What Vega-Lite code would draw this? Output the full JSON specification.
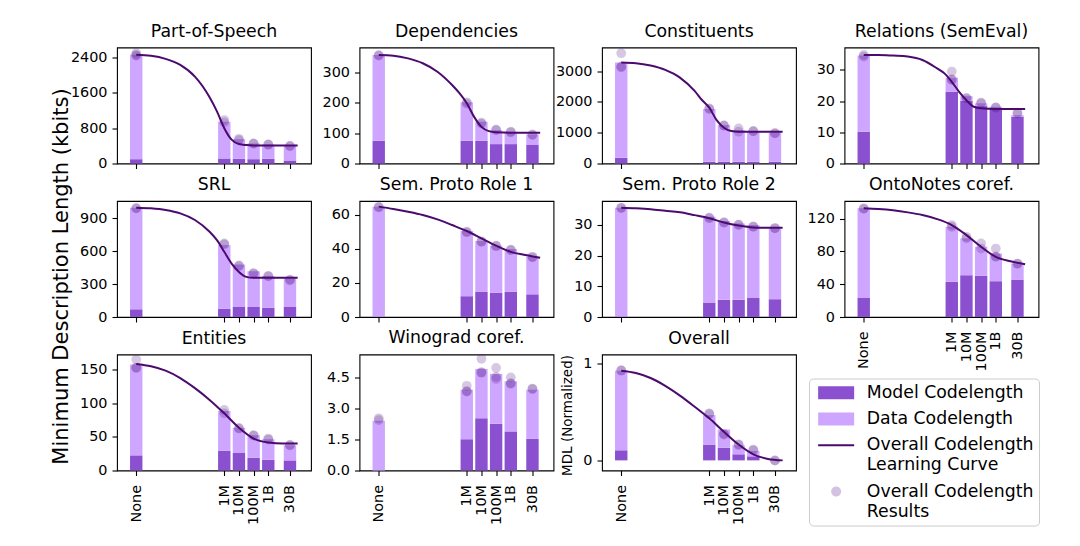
{
  "$schema": "https://vega.github.io/schema/vega-lite/v6.json",
  "background": "white",
  "padding": {"left": 49, "top": 21.5, "right": 5, "bottom": 5},
  "columns": 4,
  "spacing": {"row": 37.5, "column": 48.5},
  "bounds": "flush",
  "data": {"values": [
    {"task":"pos","kind":"bar","log_tokens":0,"part":"Model Codelength","kbits":98},
    {"task":"pos","kind":"bar","log_tokens":0,"part":"Data Codelength","kbits":2362},
    {"task":"pos","kind":"bar","log_tokens":6,"part":"Model Codelength","kbits":114},
    {"task":"pos","kind":"bar","log_tokens":6,"part":"Data Codelength","kbits":832},
    {"task":"pos","kind":"bar","log_tokens":7,"part":"Model Codelength","kbits":106},
    {"task":"pos","kind":"bar","log_tokens":7,"part":"Data Codelength","kbits":444},
    {"task":"pos","kind":"bar","log_tokens":8,"part":"Model Codelength","kbits":98},
    {"task":"pos","kind":"bar","log_tokens":8,"part":"Data Codelength","kbits":356},
    {"task":"pos","kind":"bar","log_tokens":9,"part":"Model Codelength","kbits":106},
    {"task":"pos","kind":"bar","log_tokens":9,"part":"Data Codelength","kbits":325},
    {"task":"pos","kind":"bar","log_tokens":10.477,"part":"Model Codelength","kbits":68},
    {"task":"pos","kind":"bar","log_tokens":10.477,"part":"Data Codelength","kbits":333},
    {"task":"pos","kind":"result","log_tokens":0,"kbits":2445},
    {"task":"pos","kind":"result","log_tokens":0,"kbits":2455},
    {"task":"pos","kind":"result","log_tokens":0,"kbits":2500},
    {"task":"pos","kind":"result","log_tokens":6,"kbits":984},
    {"task":"pos","kind":"result","log_tokens":6,"kbits":931},
    {"task":"pos","kind":"result","log_tokens":7,"kbits":530},
    {"task":"pos","kind":"result","log_tokens":7,"kbits":560},
    {"task":"pos","kind":"result","log_tokens":8,"kbits":454},
    {"task":"pos","kind":"result","log_tokens":8,"kbits":450},
    {"task":"pos","kind":"result","log_tokens":9,"kbits":431},
    {"task":"pos","kind":"result","log_tokens":9,"kbits":425},
    {"task":"pos","kind":"result","log_tokens":10.477,"kbits":394},
    {"task":"pos","kind":"result","log_tokens":10.477,"kbits":398},
    {"task":"pos","kind":"curve","log_tokens":0,"kbits":2460},
    {"task":"pos","kind":"curve","log_tokens":1,"kbits":2438},
    {"task":"pos","kind":"curve","log_tokens":2,"kbits":2370},
    {"task":"pos","kind":"curve","log_tokens":3,"kbits":2233},
    {"task":"pos","kind":"curve","log_tokens":4,"kbits":1968},
    {"task":"pos","kind":"curve","log_tokens":5,"kbits":1500},
    {"task":"pos","kind":"curve","log_tokens":5.5,"kbits":1180},
    {"task":"pos","kind":"curve","log_tokens":6,"kbits":800},
    {"task":"pos","kind":"curve","log_tokens":6.5,"kbits":540},
    {"task":"pos","kind":"curve","log_tokens":7,"kbits":440},
    {"task":"pos","kind":"curve","log_tokens":7.5,"kbits":418},
    {"task":"pos","kind":"curve","log_tokens":8,"kbits":410},
    {"task":"pos","kind":"curve","log_tokens":9,"kbits":409},
    {"task":"pos","kind":"curve","log_tokens":10,"kbits":409},
    {"task":"pos","kind":"curve","log_tokens":11,"kbits":409},

    {"task":"dep","kind":"bar","log_tokens":0,"part":"Model Codelength","kbits":75},
    {"task":"dep","kind":"bar","log_tokens":0,"part":"Data Codelength","kbits":283},
    {"task":"dep","kind":"bar","log_tokens":6,"part":"Model Codelength","kbits":75},
    {"task":"dep","kind":"bar","log_tokens":6,"part":"Data Codelength","kbits":127},
    {"task":"dep","kind":"bar","log_tokens":7,"part":"Model Codelength","kbits":75},
    {"task":"dep","kind":"bar","log_tokens":7,"part":"Data Codelength","kbits":63},
    {"task":"dep","kind":"bar","log_tokens":8,"part":"Model Codelength","kbits":64},
    {"task":"dep","kind":"bar","log_tokens":8,"part":"Data Codelength","kbits":46},
    {"task":"dep","kind":"bar","log_tokens":9,"part":"Model Codelength","kbits":64},
    {"task":"dep","kind":"bar","log_tokens":9,"part":"Data Codelength","kbits":41},
    {"task":"dep","kind":"bar","log_tokens":10.477,"part":"Model Codelength","kbits":61},
    {"task":"dep","kind":"bar","log_tokens":10.477,"part":"Data Codelength","kbits":35},
    {"task":"dep","kind":"result","log_tokens":0,"kbits":358},
    {"task":"dep","kind":"result","log_tokens":0,"kbits":356},
    {"task":"dep","kind":"result","log_tokens":6,"kbits":202},
    {"task":"dep","kind":"result","log_tokens":6,"kbits":198},
    {"task":"dep","kind":"result","log_tokens":7,"kbits":132},
    {"task":"dep","kind":"result","log_tokens":7,"kbits":135},
    {"task":"dep","kind":"result","log_tokens":8,"kbits":112},
    {"task":"dep","kind":"result","log_tokens":8,"kbits":110},
    {"task":"dep","kind":"result","log_tokens":9,"kbits":105},
    {"task":"dep","kind":"result","log_tokens":9,"kbits":103},
    {"task":"dep","kind":"result","log_tokens":10.477,"kbits":94},
    {"task":"dep","kind":"result","log_tokens":10.477,"kbits":96},
    {"task":"dep","kind":"curve","log_tokens":0,"kbits":358},
    {"task":"dep","kind":"curve","log_tokens":1,"kbits":356},
    {"task":"dep","kind":"curve","log_tokens":2,"kbits":347},
    {"task":"dep","kind":"curve","log_tokens":3,"kbits":331},
    {"task":"dep","kind":"curve","log_tokens":4,"kbits":303},
    {"task":"dep","kind":"curve","log_tokens":5,"kbits":259},
    {"task":"dep","kind":"curve","log_tokens":5.5,"kbits":232},
    {"task":"dep","kind":"curve","log_tokens":6,"kbits":199},
    {"task":"dep","kind":"curve","log_tokens":6.5,"kbits":154},
    {"task":"dep","kind":"curve","log_tokens":7,"kbits":121},
    {"task":"dep","kind":"curve","log_tokens":7.5,"kbits":107},
    {"task":"dep","kind":"curve","log_tokens":8,"kbits":103},
    {"task":"dep","kind":"curve","log_tokens":9,"kbits":101.5},
    {"task":"dep","kind":"curve","log_tokens":10,"kbits":101.5},
    {"task":"dep","kind":"curve","log_tokens":11,"kbits":101.5},

    {"task":"con","kind":"bar","log_tokens":0,"part":"Model Codelength","kbits":185},
    {"task":"con","kind":"bar","log_tokens":0,"part":"Data Codelength","kbits":3098},
    {"task":"con","kind":"bar","log_tokens":6,"part":"Model Codelength","kbits":55},
    {"task":"con","kind":"bar","log_tokens":6,"part":"Data Codelength","kbits":1717},
    {"task":"con","kind":"bar","log_tokens":7,"part":"Model Codelength","kbits":55},
    {"task":"con","kind":"bar","log_tokens":7,"part":"Data Codelength","kbits":1195},
    {"task":"con","kind":"bar","log_tokens":8,"part":"Model Codelength","kbits":55},
    {"task":"con","kind":"bar","log_tokens":8,"part":"Data Codelength","kbits":1032},
    {"task":"con","kind":"bar","log_tokens":9,"part":"Model Codelength","kbits":55},
    {"task":"con","kind":"bar","log_tokens":9,"part":"Data Codelength","kbits":999},
    {"task":"con","kind":"bar","log_tokens":10.477,"part":"Model Codelength","kbits":55},
    {"task":"con","kind":"bar","log_tokens":10.477,"part":"Data Codelength","kbits":945},
    {"task":"con","kind":"result","log_tokens":0,"kbits":3130},
    {"task":"con","kind":"result","log_tokens":0,"kbits":3150},
    {"task":"con","kind":"result","log_tokens":0,"kbits":3587},
    {"task":"con","kind":"result","log_tokens":6,"kbits":1793},
    {"task":"con","kind":"result","log_tokens":6,"kbits":1770},
    {"task":"con","kind":"result","log_tokens":7,"kbits":1228},
    {"task":"con","kind":"result","log_tokens":7,"kbits":1240},
    {"task":"con","kind":"result","log_tokens":8,"kbits":1141},
    {"task":"con","kind":"result","log_tokens":8,"kbits":1033},
    {"task":"con","kind":"result","log_tokens":9,"kbits":1054},
    {"task":"con","kind":"result","log_tokens":9,"kbits":1050},
    {"task":"con","kind":"result","log_tokens":10.477,"kbits":978},
    {"task":"con","kind":"result","log_tokens":10.477,"kbits":990},
    {"task":"con","kind":"curve","log_tokens":0,"kbits":3283},
    {"task":"con","kind":"curve","log_tokens":1,"kbits":3261},
    {"task":"con","kind":"curve","log_tokens":2,"kbits":3185},
    {"task":"con","kind":"curve","log_tokens":3,"kbits":3044},
    {"task":"con","kind":"curve","log_tokens":4,"kbits":2794},
    {"task":"con","kind":"curve","log_tokens":5,"kbits":2359},
    {"task":"con","kind":"curve","log_tokens":5.5,"kbits":2065},
    {"task":"con","kind":"curve","log_tokens":6,"kbits":1815},
    {"task":"con","kind":"curve","log_tokens":6.5,"kbits":1413},
    {"task":"con","kind":"curve","log_tokens":7,"kbits":1163},
    {"task":"con","kind":"curve","log_tokens":7.5,"kbits":1054},
    {"task":"con","kind":"curve","log_tokens":8,"kbits":1033},
    {"task":"con","kind":"curve","log_tokens":9,"kbits":1033},
    {"task":"con","kind":"curve","log_tokens":10,"kbits":1033},
    {"task":"con","kind":"curve","log_tokens":11,"kbits":1033},

    {"task":"rel","kind":"bar","log_tokens":0,"part":"Model Codelength","kbits":10.2},
    {"task":"rel","kind":"bar","log_tokens":0,"part":"Data Codelength","kbits":24.4},
    {"task":"rel","kind":"bar","log_tokens":6,"part":"Model Codelength","kbits":23.0},
    {"task":"rel","kind":"bar","log_tokens":6,"part":"Data Codelength","kbits":4.5},
    {"task":"rel","kind":"bar","log_tokens":7,"part":"Model Codelength","kbits":20.1},
    {"task":"rel","kind":"bar","log_tokens":7,"part":"Data Codelength","kbits":1.5},
    {"task":"rel","kind":"bar","log_tokens":8,"part":"Model Codelength","kbits":18.4},
    {"task":"rel","kind":"bar","log_tokens":8,"part":"Data Codelength","kbits":0.9},
    {"task":"rel","kind":"bar","log_tokens":9,"part":"Model Codelength","kbits":17.7},
    {"task":"rel","kind":"bar","log_tokens":9,"part":"Data Codelength","kbits":0.5},
    {"task":"rel","kind":"bar","log_tokens":10.477,"part":"Model Codelength","kbits":15.0},
    {"task":"rel","kind":"bar","log_tokens":10.477,"part":"Data Codelength","kbits":0.5},
    {"task":"rel","kind":"result","log_tokens":0,"kbits":34.8},
    {"task":"rel","kind":"result","log_tokens":0,"kbits":34.3},
    {"task":"rel","kind":"result","log_tokens":6,"kbits":29.5},
    {"task":"rel","kind":"result","log_tokens":6,"kbits":26.8},
    {"task":"rel","kind":"result","log_tokens":6,"kbits":27.0},
    {"task":"rel","kind":"result","log_tokens":7,"kbits":20.9},
    {"task":"rel","kind":"result","log_tokens":7,"kbits":21.0},
    {"task":"rel","kind":"result","log_tokens":8,"kbits":19.5},
    {"task":"rel","kind":"result","log_tokens":8,"kbits":19.3},
    {"task":"rel","kind":"result","log_tokens":9,"kbits":17.9},
    {"task":"rel","kind":"result","log_tokens":9,"kbits":18.0},
    {"task":"rel","kind":"result","log_tokens":10.477,"kbits":16.3},
    {"task":"rel","kind":"result","log_tokens":10.477,"kbits":16.0},
    {"task":"rel","kind":"curve","log_tokens":0,"kbits":34.8},
    {"task":"rel","kind":"curve","log_tokens":1,"kbits":34.8},
    {"task":"rel","kind":"curve","log_tokens":2,"kbits":34.6},
    {"task":"rel","kind":"curve","log_tokens":3,"kbits":34.3},
    {"task":"rel","kind":"curve","log_tokens":4,"kbits":33.2},
    {"task":"rel","kind":"curve","log_tokens":5,"kbits":30.5},
    {"task":"rel","kind":"curve","log_tokens":5.5,"kbits":28.9},
    {"task":"rel","kind":"curve","log_tokens":6,"kbits":26.2},
    {"task":"rel","kind":"curve","log_tokens":6.5,"kbits":23.0},
    {"task":"rel","kind":"curve","log_tokens":7,"kbits":20.3},
    {"task":"rel","kind":"curve","log_tokens":7.5,"kbits":18.2},
    {"task":"rel","kind":"curve","log_tokens":8,"kbits":17.7},
    {"task":"rel","kind":"curve","log_tokens":9,"kbits":17.5},
    {"task":"rel","kind":"curve","log_tokens":10,"kbits":17.5},
    {"task":"rel","kind":"curve","log_tokens":11,"kbits":17.5},

    {"task":"srl","kind":"bar","log_tokens":0,"part":"Model Codelength","kbits":70},
    {"task":"srl","kind":"bar","log_tokens":0,"part":"Data Codelength","kbits":924},
    {"task":"srl","kind":"bar","log_tokens":6,"part":"Model Codelength","kbits":76},
    {"task":"srl","kind":"bar","log_tokens":6,"part":"Data Codelength","kbits":578},
    {"task":"srl","kind":"bar","log_tokens":7,"part":"Model Codelength","kbits":91},
    {"task":"srl","kind":"bar","log_tokens":7,"part":"Data Codelength","kbits":386},
    {"task":"srl","kind":"bar","log_tokens":8,"part":"Model Codelength","kbits":91},
    {"task":"srl","kind":"bar","log_tokens":8,"part":"Data Codelength","kbits":325},
    {"task":"srl","kind":"bar","log_tokens":9,"part":"Model Codelength","kbits":85},
    {"task":"srl","kind":"bar","log_tokens":9,"part":"Data Codelength","kbits":289},
    {"task":"srl","kind":"bar","log_tokens":10.477,"part":"Model Codelength","kbits":91},
    {"task":"srl","kind":"bar","log_tokens":10.477,"part":"Data Codelength","kbits":259},
    {"task":"srl","kind":"result","log_tokens":0,"kbits":988},
    {"task":"srl","kind":"result","log_tokens":0,"kbits":990},
    {"task":"srl","kind":"result","log_tokens":6,"kbits":669},
    {"task":"srl","kind":"result","log_tokens":6,"kbits":660},
    {"task":"srl","kind":"result","log_tokens":7,"kbits":462},
    {"task":"srl","kind":"result","log_tokens":7,"kbits":470},
    {"task":"srl","kind":"result","log_tokens":8,"kbits":395},
    {"task":"srl","kind":"result","log_tokens":8,"kbits":400},
    {"task":"srl","kind":"result","log_tokens":9,"kbits":374},
    {"task":"srl","kind":"result","log_tokens":9,"kbits":370},
    {"task":"srl","kind":"result","log_tokens":10.477,"kbits":334},
    {"task":"srl","kind":"result","log_tokens":10.477,"kbits":340},
    {"task":"srl","kind":"curve","log_tokens":0,"kbits":994},
    {"task":"srl","kind":"curve","log_tokens":1,"kbits":988},
    {"task":"srl","kind":"curve","log_tokens":2,"kbits":973},
    {"task":"srl","kind":"curve","log_tokens":3,"kbits":942},
    {"task":"srl","kind":"curve","log_tokens":4,"kbits":882},
    {"task":"srl","kind":"curve","log_tokens":5,"kbits":775},
    {"task":"srl","kind":"curve","log_tokens":5.5,"kbits":699},
    {"task":"srl","kind":"curve","log_tokens":6,"kbits":593},
    {"task":"srl","kind":"curve","log_tokens":6.5,"kbits":486},
    {"task":"srl","kind":"curve","log_tokens":7,"kbits":410},
    {"task":"srl","kind":"curve","log_tokens":7.5,"kbits":365},
    {"task":"srl","kind":"curve","log_tokens":8,"kbits":356},
    {"task":"srl","kind":"curve","log_tokens":9,"kbits":356},
    {"task":"srl","kind":"curve","log_tokens":10,"kbits":356},
    {"task":"srl","kind":"curve","log_tokens":11,"kbits":356},

    {"task":"spr1","kind":"bar","log_tokens":0,"part":"Model Codelength","kbits":0.3},
    {"task":"spr1","kind":"bar","log_tokens":0,"part":"Data Codelength","kbits":64.4},
    {"task":"spr1","kind":"bar","log_tokens":6,"part":"Model Codelength","kbits":12.2},
    {"task":"spr1","kind":"bar","log_tokens":6,"part":"Data Codelength","kbits":38.2},
    {"task":"spr1","kind":"bar","log_tokens":7,"part":"Model Codelength","kbits":14.7},
    {"task":"spr1","kind":"bar","log_tokens":7,"part":"Data Codelength","kbits":29.8},
    {"task":"spr1","kind":"bar","log_tokens":8,"part":"Model Codelength","kbits":14.3},
    {"task":"spr1","kind":"bar","log_tokens":8,"part":"Data Codelength","kbits":27.5},
    {"task":"spr1","kind":"bar","log_tokens":9,"part":"Model Codelength","kbits":14.7},
    {"task":"spr1","kind":"bar","log_tokens":9,"part":"Data Codelength","kbits":25.1},
    {"task":"spr1","kind":"bar","log_tokens":10.477,"part":"Model Codelength","kbits":13.3},
    {"task":"spr1","kind":"bar","log_tokens":10.477,"part":"Data Codelength","kbits":22.0},
    {"task":"spr1","kind":"result","log_tokens":0,"kbits":64.3},
    {"task":"spr1","kind":"result","log_tokens":0,"kbits":64.5},
    {"task":"spr1","kind":"result","log_tokens":6,"kbits":49.6},
    {"task":"spr1","kind":"result","log_tokens":6,"kbits":50.0},
    {"task":"spr1","kind":"result","log_tokens":7,"kbits":44.1},
    {"task":"spr1","kind":"result","log_tokens":7,"kbits":44.3},
    {"task":"spr1","kind":"result","log_tokens":8,"kbits":41.8},
    {"task":"spr1","kind":"result","log_tokens":8,"kbits":41.5},
    {"task":"spr1","kind":"result","log_tokens":9,"kbits":39.2},
    {"task":"spr1","kind":"result","log_tokens":9,"kbits":39.5},
    {"task":"spr1","kind":"result","log_tokens":10.477,"kbits":35.3},
    {"task":"spr1","kind":"result","log_tokens":10.477,"kbits":35.0},
    {"task":"spr1","kind":"curve","log_tokens":0,"kbits":64.7},
    {"task":"spr1","kind":"curve","log_tokens":1,"kbits":63.3},
    {"task":"spr1","kind":"curve","log_tokens":2,"kbits":61.7},
    {"task":"spr1","kind":"curve","log_tokens":3,"kbits":59.8},
    {"task":"spr1","kind":"curve","log_tokens":4,"kbits":57.2},
    {"task":"spr1","kind":"curve","log_tokens":5,"kbits":53.9},
    {"task":"spr1","kind":"curve","log_tokens":6,"kbits":50.4},
    {"task":"spr1","kind":"curve","log_tokens":7,"kbits":46.1},
    {"task":"spr1","kind":"curve","log_tokens":8,"kbits":41.8},
    {"task":"spr1","kind":"curve","log_tokens":9,"kbits":38.2},
    {"task":"spr1","kind":"curve","log_tokens":10,"kbits":36.3},
    {"task":"spr1","kind":"curve","log_tokens":11,"kbits":34.7},

    {"task":"spr2","kind":"bar","log_tokens":0,"part":"Model Codelength","kbits":0.2},
    {"task":"spr2","kind":"bar","log_tokens":0,"part":"Data Codelength","kbits":35.4},
    {"task":"spr2","kind":"bar","log_tokens":6,"part":"Model Codelength","kbits":4.6},
    {"task":"spr2","kind":"bar","log_tokens":6,"part":"Data Codelength","kbits":28.1},
    {"task":"spr2","kind":"bar","log_tokens":7,"part":"Model Codelength","kbits":5.6},
    {"task":"spr2","kind":"bar","log_tokens":7,"part":"Data Codelength","kbits":25.7},
    {"task":"spr2","kind":"bar","log_tokens":8,"part":"Model Codelength","kbits":5.6},
    {"task":"spr2","kind":"bar","log_tokens":8,"part":"Data Codelength","kbits":24.9},
    {"task":"spr2","kind":"bar","log_tokens":9,"part":"Model Codelength","kbits":6.2},
    {"task":"spr2","kind":"bar","log_tokens":9,"part":"Data Codelength","kbits":23.8},
    {"task":"spr2","kind":"bar","log_tokens":10.477,"part":"Model Codelength","kbits":5.8},
    {"task":"spr2","kind":"bar","log_tokens":10.477,"part":"Data Codelength","kbits":23.1},
    {"task":"spr2","kind":"result","log_tokens":0,"kbits":35.6},
    {"task":"spr2","kind":"result","log_tokens":0,"kbits":35.5},
    {"task":"spr2","kind":"result","log_tokens":6,"kbits":32.2},
    {"task":"spr2","kind":"result","log_tokens":6,"kbits":32.4},
    {"task":"spr2","kind":"result","log_tokens":7,"kbits":30.7},
    {"task":"spr2","kind":"result","log_tokens":7,"kbits":30.9},
    {"task":"spr2","kind":"result","log_tokens":8,"kbits":30.0},
    {"task":"spr2","kind":"result","log_tokens":8,"kbits":30.1},
    {"task":"spr2","kind":"result","log_tokens":9,"kbits":29.4},
    {"task":"spr2","kind":"result","log_tokens":9,"kbits":29.5},
    {"task":"spr2","kind":"result","log_tokens":10.477,"kbits":28.9},
    {"task":"spr2","kind":"result","log_tokens":10.477,"kbits":29.0},
    {"task":"spr2","kind":"curve","log_tokens":0,"kbits":35.6},
    {"task":"spr2","kind":"curve","log_tokens":1,"kbits":35.4},
    {"task":"spr2","kind":"curve","log_tokens":2,"kbits":35.1},
    {"task":"spr2","kind":"curve","log_tokens":3,"kbits":34.6},
    {"task":"spr2","kind":"curve","log_tokens":4,"kbits":34.1},
    {"task":"spr2","kind":"curve","log_tokens":5,"kbits":33.2},
    {"task":"spr2","kind":"curve","log_tokens":6,"kbits":32.2},
    {"task":"spr2","kind":"curve","log_tokens":7,"kbits":30.8},
    {"task":"spr2","kind":"curve","log_tokens":8,"kbits":29.8},
    {"task":"spr2","kind":"curve","log_tokens":9,"kbits":29.2},
    {"task":"spr2","kind":"curve","log_tokens":10,"kbits":29.1},
    {"task":"spr2","kind":"curve","log_tokens":11,"kbits":29.1},

    {"task":"onto","kind":"bar","log_tokens":0,"part":"Model Codelength","kbits":23.3},
    {"task":"onto","kind":"bar","log_tokens":0,"part":"Data Codelength","kbits":109.4},
    {"task":"onto","kind":"bar","log_tokens":6,"part":"Model Codelength","kbits":42.9},
    {"task":"onto","kind":"bar","log_tokens":6,"part":"Data Codelength","kbits":67.3},
    {"task":"onto","kind":"bar","log_tokens":7,"part":"Model Codelength","kbits":51.0},
    {"task":"onto","kind":"bar","log_tokens":7,"part":"Data Codelength","kbits":44.9},
    {"task":"onto","kind":"bar","log_tokens":8,"part":"Model Codelength","kbits":50.2},
    {"task":"onto","kind":"bar","log_tokens":8,"part":"Data Codelength","kbits":35.5},
    {"task":"onto","kind":"bar","log_tokens":9,"part":"Model Codelength","kbits":43.7},
    {"task":"onto","kind":"bar","log_tokens":9,"part":"Data Codelength","kbits":33.8},
    {"task":"onto","kind":"bar","log_tokens":10.477,"part":"Model Codelength","kbits":45.7},
    {"task":"onto","kind":"bar","log_tokens":10.477,"part":"Data Codelength","kbits":19.6},
    {"task":"onto","kind":"result","log_tokens":0,"kbits":132.7},
    {"task":"onto","kind":"result","log_tokens":0,"kbits":132.0},
    {"task":"onto","kind":"result","log_tokens":6,"kbits":112.2},
    {"task":"onto","kind":"result","log_tokens":6,"kbits":110.0},
    {"task":"onto","kind":"result","log_tokens":7,"kbits":97.9},
    {"task":"onto","kind":"result","log_tokens":7,"kbits":96.0},
    {"task":"onto","kind":"result","log_tokens":8,"kbits":83.6},
    {"task":"onto","kind":"result","log_tokens":8,"kbits":89.8},
    {"task":"onto","kind":"result","log_tokens":9,"kbits":83.6},
    {"task":"onto","kind":"result","log_tokens":9,"kbits":73.4},
    {"task":"onto","kind":"result","log_tokens":9,"kbits":74.0},
    {"task":"onto","kind":"result","log_tokens":10.477,"kbits":65.3},
    {"task":"onto","kind":"result","log_tokens":10.477,"kbits":65.0},
    {"task":"onto","kind":"curve","log_tokens":0,"kbits":132.7},
    {"task":"onto","kind":"curve","log_tokens":1,"kbits":131.8},
    {"task":"onto","kind":"curve","log_tokens":2,"kbits":130.2},
    {"task":"onto","kind":"curve","log_tokens":3,"kbits":127.7},
    {"task":"onto","kind":"curve","log_tokens":4,"kbits":124.4},
    {"task":"onto","kind":"curve","log_tokens":5,"kbits":119.5},
    {"task":"onto","kind":"curve","log_tokens":6,"kbits":112.2},
    {"task":"onto","kind":"curve","log_tokens":7,"kbits":100.0},
    {"task":"onto","kind":"curve","log_tokens":8,"kbits":85.7},
    {"task":"onto","kind":"curve","log_tokens":9,"kbits":73.4},
    {"task":"onto","kind":"curve","log_tokens":10,"kbits":68.0},
    {"task":"onto","kind":"curve","log_tokens":11,"kbits":64.3},

    {"task":"ent","kind":"bar","log_tokens":0,"part":"Model Codelength","kbits":22.5},
    {"task":"ent","kind":"bar","log_tokens":0,"part":"Data Codelength","kbits":135},
    {"task":"ent","kind":"bar","log_tokens":6,"part":"Model Codelength","kbits":29.5},
    {"task":"ent","kind":"bar","log_tokens":6,"part":"Data Codelength","kbits":59},
    {"task":"ent","kind":"bar","log_tokens":7,"part":"Model Codelength","kbits":26},
    {"task":"ent","kind":"bar","log_tokens":7,"part":"Data Codelength","kbits":37.5},
    {"task":"ent","kind":"bar","log_tokens":8,"part":"Model Codelength","kbits":19},
    {"task":"ent","kind":"bar","log_tokens":8,"part":"Data Codelength","kbits":33.5},
    {"task":"ent","kind":"bar","log_tokens":9,"part":"Model Codelength","kbits":16},
    {"task":"ent","kind":"bar","log_tokens":9,"part":"Data Codelength","kbits":30.5},
    {"task":"ent","kind":"bar","log_tokens":10.477,"part":"Model Codelength","kbits":15},
    {"task":"ent","kind":"bar","log_tokens":10.477,"part":"Data Codelength","kbits":22.5},
    {"task":"ent","kind":"result","log_tokens":0,"kbits":152.5},
    {"task":"ent","kind":"result","log_tokens":0,"kbits":153},
    {"task":"ent","kind":"result","log_tokens":0,"kbits":165},
    {"task":"ent","kind":"result","log_tokens":6,"kbits":90},
    {"task":"ent","kind":"result","log_tokens":6,"kbits":85},
    {"task":"ent","kind":"result","log_tokens":7,"kbits":62.5},
    {"task":"ent","kind":"result","log_tokens":7,"kbits":63},
    {"task":"ent","kind":"result","log_tokens":8,"kbits":52.5},
    {"task":"ent","kind":"result","log_tokens":8,"kbits":52},
    {"task":"ent","kind":"result","log_tokens":9,"kbits":47.5},
    {"task":"ent","kind":"result","log_tokens":9,"kbits":46},
    {"task":"ent","kind":"result","log_tokens":10.477,"kbits":37.5},
    {"task":"ent","kind":"result","log_tokens":10.477,"kbits":38},
    {"task":"ent","kind":"curve","log_tokens":0,"kbits":158.5},
    {"task":"ent","kind":"curve","log_tokens":1,"kbits":155},
    {"task":"ent","kind":"curve","log_tokens":2,"kbits":148.5},
    {"task":"ent","kind":"curve","log_tokens":3,"kbits":137.5},
    {"task":"ent","kind":"curve","log_tokens":4,"kbits":122.5},
    {"task":"ent","kind":"curve","log_tokens":5,"kbits":105},
    {"task":"ent","kind":"curve","log_tokens":6,"kbits":85},
    {"task":"ent","kind":"curve","log_tokens":7,"kbits":63.5},
    {"task":"ent","kind":"curve","log_tokens":8,"kbits":47.5},
    {"task":"ent","kind":"curve","log_tokens":9,"kbits":41.5},
    {"task":"ent","kind":"curve","log_tokens":10,"kbits":40},
    {"task":"ent","kind":"curve","log_tokens":11,"kbits":40},

    {"task":"wino","kind":"bar","log_tokens":0,"part":"Model Codelength","kbits":0},
    {"task":"wino","kind":"bar","log_tokens":0,"part":"Data Codelength","kbits":2.42},
    {"task":"wino","kind":"bar","log_tokens":6,"part":"Model Codelength","kbits":1.52},
    {"task":"wino","kind":"bar","log_tokens":6,"part":"Data Codelength","kbits":2.41},
    {"task":"wino","kind":"bar","log_tokens":7,"part":"Model Codelength","kbits":2.54},
    {"task":"wino","kind":"bar","log_tokens":7,"part":"Data Codelength","kbits":2.40},
    {"task":"wino","kind":"bar","log_tokens":8,"part":"Model Codelength","kbits":2.27},
    {"task":"wino","kind":"bar","log_tokens":8,"part":"Data Codelength","kbits":2.43},
    {"task":"wino","kind":"bar","log_tokens":9,"part":"Model Codelength","kbits":1.90},
    {"task":"wino","kind":"bar","log_tokens":9,"part":"Data Codelength","kbits":2.44},
    {"task":"wino","kind":"bar","log_tokens":10.477,"part":"Model Codelength","kbits":1.55},
    {"task":"wino","kind":"bar","log_tokens":10.477,"part":"Data Codelength","kbits":2.38},
    {"task":"wino","kind":"result","log_tokens":0,"kbits":2.45},
    {"task":"wino","kind":"result","log_tokens":0,"kbits":2.54},
    {"task":"wino","kind":"result","log_tokens":6,"kbits":3.84},
    {"task":"wino","kind":"result","log_tokens":6,"kbits":3.86},
    {"task":"wino","kind":"result","log_tokens":6,"kbits":4.12},
    {"task":"wino","kind":"result","log_tokens":7,"kbits":4.78},
    {"task":"wino","kind":"result","log_tokens":7,"kbits":4.75},
    {"task":"wino","kind":"result","log_tokens":7,"kbits":5.43},
    {"task":"wino","kind":"result","log_tokens":8,"kbits":4.45},
    {"task":"wino","kind":"result","log_tokens":8,"kbits":4.55},
    {"task":"wino","kind":"result","log_tokens":8,"kbits":4.99},
    {"task":"wino","kind":"result","log_tokens":9,"kbits":4.22},
    {"task":"wino","kind":"result","log_tokens":9,"kbits":4.25},
    {"task":"wino","kind":"result","log_tokens":9,"kbits":4.53},
    {"task":"wino","kind":"result","log_tokens":10.477,"kbits":3.96},
    {"task":"wino","kind":"result","log_tokens":10.477,"kbits":3.98},

    {"task":"all","kind":"bar","log_tokens":0,"part":"Model Codelength","kbits":0.1045},
    {"task":"all","kind":"bar","log_tokens":0,"part":"Data Codelength","kbits":0.8255},
    {"task":"all","kind":"bar","log_tokens":6,"part":"Model Codelength","kbits":0.164},
    {"task":"all","kind":"bar","log_tokens":6,"part":"Data Codelength","kbits":0.306},
    {"task":"all","kind":"bar","log_tokens":7,"part":"Model Codelength","kbits":0.13},
    {"task":"all","kind":"bar","log_tokens":7,"part":"Data Codelength","kbits":0.19},
    {"task":"all","kind":"bar","log_tokens":8,"part":"Model Codelength","kbits":0.063},
    {"task":"all","kind":"bar","log_tokens":8,"part":"Data Codelength","kbits":0.094},
    {"task":"all","kind":"bar","log_tokens":9,"part":"Model Codelength","kbits":0.042},
    {"task":"all","kind":"bar","log_tokens":9,"part":"Data Codelength","kbits":0.056},
    {"task":"all","kind":"result","log_tokens":0,"kbits":0.930},
    {"task":"all","kind":"result","log_tokens":0,"kbits":0.935},
    {"task":"all","kind":"result","log_tokens":6,"kbits":0.488},
    {"task":"all","kind":"result","log_tokens":6,"kbits":0.480},
    {"task":"all","kind":"result","log_tokens":7,"kbits":0.268},
    {"task":"all","kind":"result","log_tokens":7,"kbits":0.275},
    {"task":"all","kind":"result","log_tokens":8,"kbits":0.167},
    {"task":"all","kind":"result","log_tokens":8,"kbits":0.160},
    {"task":"all","kind":"result","log_tokens":9,"kbits":0.111},
    {"task":"all","kind":"result","log_tokens":9,"kbits":0.105},
    {"task":"all","kind":"result","log_tokens":10.477,"kbits":-0.003},
    {"task":"all","kind":"result","log_tokens":10.477,"kbits":0.0},
    {"task":"all","kind":"curve","log_tokens":0,"kbits":0.930},
    {"task":"all","kind":"curve","log_tokens":1,"kbits":0.906},
    {"task":"all","kind":"curve","log_tokens":2,"kbits":0.854},
    {"task":"all","kind":"curve","log_tokens":3,"kbits":0.773},
    {"task":"all","kind":"curve","log_tokens":4,"kbits":0.672},
    {"task":"all","kind":"curve","log_tokens":5,"kbits":0.557},
    {"task":"all","kind":"curve","log_tokens":6,"kbits":0.436},
    {"task":"all","kind":"curve","log_tokens":7,"kbits":0.296},
    {"task":"all","kind":"curve","log_tokens":8,"kbits":0.164},
    {"task":"all","kind":"curve","log_tokens":9,"kbits":0.063},
    {"task":"all","kind":"curve","log_tokens":10,"kbits":0.015},
    {"task":"all","kind":"curve","log_tokens":11,"kbits":0.0}
  ]},
  "concat": [
    {
      "title": "Part-of-Speech", "width": 194, "height": 116,
      "transform": [{"filter": "datum.task == 'pos'"}],
      "encoding": {
        "x": {"field": "log_tokens", "type": "quantitative", "scale": {"domain": [-0.97, 11.57], "nice": false, "zero": false}, "axis": {"values": [0, 6, 7, 8, 9, 10.477], "labels": false, "title": null}},
        "y": {"field": "kbits", "type": "quantitative", "scale": {"domain": [0, 2627], "nice": false}, "axis": {"values": [0, 800, 1600, 2400], "format": "d", "title": "Minimum Description Length (kbits)", "titleFontSize": 21, "titleX": -56, "titleY": 228.5, "titleAngle": 270, "titleAlign": "center", "titleBaseline": "middle"}}
      },
      "layer": [
        {"transform": [{"filter": "datum.kind == 'bar'"}], "mark": {"type": "bar", "width": 12.4},
         "encoding": {
           "y": {"field": "kbits", "type": "quantitative", "stack": "zero", "scale": {"domain": [0, 2627], "nice": false}, "axis": {"values": [0, 800, 1600, 2400], "format": "d", "title": "Minimum Description Length (kbits)", "titleFontSize": 21, "titleX": -56, "titleY": 228.5, "titleAngle": 270, "titleAlign": "center", "titleBaseline": "middle"}},
           "color": {"field": "part", "type": "nominal",
             "scale": {"domain": ["Model Codelength", "Data Codelength", "Overall Codelength|Learning Curve", "Overall Codelength|Results"], "range": ["#8a50d0", "#cfa6ff", "#4b0a6e", "#5b2390"]},
             "legend": {
               "orient": "none", "legendX": 692, "legendY": 331, "title": null,
               "labelFontSize": 17.3, "labelLimit": 400, "labelColor": "#000", "labelFont": "DejaVu Sans",
               "symbolSize": 169, "symbolOffset": 13, "labelOffset": 22, "rowPadding": 8.3,
               "padding": 5.5, "strokeColor": "#cccccc", "fillColor": "#ffffff", "cornerRadius": 4,
               "labelExpr": "split(datum.label, '|')",
               "encode": {
                 "symbols": {"update": {
                   "shape": {"signal": "datum.value == 'Overall Codelength|Learning Curve' ? 'M-2.77,0H2.77' : datum.value == 'Overall Codelength|Results' ? 'M0.77,0A0.77,0.77,0,1,1,-0.77,0A0.77,0.77,0,1,1,0.77,0Z' : 'M-2.77,-1H2.77V1H-2.77Z'"},
                   "fill": {"signal": "datum.value == 'Model Codelength' ? '#8a50d0' : datum.value == 'Data Codelength' ? '#cfa6ff' : datum.value == 'Overall Codelength|Results' ? '#5b2390' : 'transparent'"},
                   "fillOpacity": {"signal": "datum.value == 'Overall Codelength|Results' ? 0.27 : 1"},
                   "stroke": {"signal": "datum.value == 'Overall Codelength|Learning Curve' ? '#4b0a6e' : 'transparent'"},
                   "strokeOpacity": {"signal": "datum.value == 'Overall Codelength|Learning Curve' ? 1 : 0"},
                   "strokeWidth": {"value": 2},
                   "opacity": {"value": 1}
                 }},
                 "labels": {"update": {"lineHeight": {"value": 20}}}
               }
             }},
           "order": {"field": "part", "sort": "descending"}
         }},
        {"transform": [{"filter": "datum.kind == 'result'"}], "mark": {"type": "point", "filled": true, "size": 95, "opacity": 0.25},
         "encoding": {"color": {"datum": "Overall Codelength|Results"}}},
        {"transform": [{"filter": "datum.kind == 'curve'"}], "mark": {"type": "line", "interpolate": "monotone", "strokeWidth": 2},
         "encoding": {"color": {"datum": "Overall Codelength|Learning Curve"}}}
      ]
    },
    {
      "title": "Dependencies", "width": 194, "height": 116,
      "transform": [{"filter": "datum.task == 'dep'"}],
      "encoding": {
        "x": {"field": "log_tokens", "type": "quantitative", "scale": {"domain": [-0.97, 11.57], "nice": false, "zero": false}, "axis": {"values": [0, 6, 7, 8, 9, 10.477], "labels": false, "title": null}},
        "y": {"field": "kbits", "type": "quantitative", "scale": {"domain": [0, 383], "nice": false}, "axis": {"values": [0, 100, 200, 300], "format": "d", "title": null}}
      },
      "layer": [
        {"transform": [{"filter": "datum.kind == 'bar'"}], "mark": {"type": "bar", "width": 12.4},
         "encoding": {
           "y": {"field": "kbits", "type": "quantitative", "stack": "zero", "scale": {"domain": [0, 383], "nice": false}, "axis": {"values": [0, 100, 200, 300], "format": "d", "title": null}},
           "color": {"field": "part", "type": "nominal"},
           "order": {"field": "part", "sort": "descending"}}},
        {"transform": [{"filter": "datum.kind == 'result'"}], "mark": {"type": "point", "filled": true, "size": 95, "opacity": 0.25},
         "encoding": {"color": {"datum": "Overall Codelength|Results"}}},
        {"transform": [{"filter": "datum.kind == 'curve'"}], "mark": {"type": "line", "interpolate": "monotone", "strokeWidth": 2},
         "encoding": {"color": {"datum": "Overall Codelength|Learning Curve"}}}
      ]
    },
    {
      "title": "Constituents", "width": 194, "height": 116,
      "transform": [{"filter": "datum.task == 'con'"}],
      "encoding": {
        "x": {"field": "log_tokens", "type": "quantitative", "scale": {"domain": [-0.97, 11.57], "nice": false, "zero": false}, "axis": {"values": [0, 6, 7, 8, 9, 10.477], "labels": false, "title": null}},
        "y": {"field": "kbits", "type": "quantitative", "scale": {"domain": [0, 3772], "nice": false}, "axis": {"values": [0, 1000, 2000, 3000], "format": "d", "title": null}}
      },
      "layer": [
        {"transform": [{"filter": "datum.kind == 'bar'"}], "mark": {"type": "bar", "width": 12.4},
         "encoding": {
           "y": {"field": "kbits", "type": "quantitative", "stack": "zero", "scale": {"domain": [0, 3772], "nice": false}, "axis": {"values": [0, 1000, 2000, 3000], "format": "d", "title": null}},
           "color": {"field": "part", "type": "nominal"},
           "order": {"field": "part", "sort": "descending"}}},
        {"transform": [{"filter": "datum.kind == 'result'"}], "mark": {"type": "point", "filled": true, "size": 95, "opacity": 0.25},
         "encoding": {"color": {"datum": "Overall Codelength|Results"}}},
        {"transform": [{"filter": "datum.kind == 'curve'"}], "mark": {"type": "line", "interpolate": "monotone", "strokeWidth": 2},
         "encoding": {"color": {"datum": "Overall Codelength|Learning Curve"}}}
      ]
    },
    {
      "title": "Relations (SemEval)", "width": 194, "height": 116,
      "transform": [{"filter": "datum.task == 'rel'"}],
      "encoding": {
        "x": {"field": "log_tokens", "type": "quantitative", "scale": {"domain": [-0.97, 11.57], "nice": false, "zero": false}, "axis": {"values": [0, 6, 7, 8, 9, 10.477], "labels": false, "title": null}},
        "y": {"field": "kbits", "type": "quantitative", "scale": {"domain": [0, 37.2], "nice": false}, "axis": {"values": [0, 10, 20, 30], "format": "d", "title": null}}
      },
      "layer": [
        {"transform": [{"filter": "datum.kind == 'bar'"}], "mark": {"type": "bar", "width": 12.4},
         "encoding": {
           "y": {"field": "kbits", "type": "quantitative", "stack": "zero", "scale": {"domain": [0, 37.2], "nice": false}, "axis": {"values": [0, 10, 20, 30], "format": "d", "title": null}},
           "color": {"field": "part", "type": "nominal"},
           "order": {"field": "part", "sort": "descending"}}},
        {"transform": [{"filter": "datum.kind == 'result'"}], "mark": {"type": "point", "filled": true, "size": 95, "opacity": 0.25},
         "encoding": {"color": {"datum": "Overall Codelength|Results"}}},
        {"transform": [{"filter": "datum.kind == 'curve'"}], "mark": {"type": "line", "interpolate": "monotone", "strokeWidth": 2},
         "encoding": {"color": {"datum": "Overall Codelength|Learning Curve"}}}
      ]
    },
    {
      "title": "SRL", "width": 194, "height": 116,
      "transform": [{"filter": "datum.task == 'srl'"}],
      "encoding": {
        "x": {"field": "log_tokens", "type": "quantitative", "scale": {"domain": [-0.97, 11.57], "nice": false, "zero": false}, "axis": {"values": [0, 6, 7, 8, 9, 10.477], "labels": false, "title": null}},
        "y": {"field": "kbits", "type": "quantitative", "scale": {"domain": [0, 1055], "nice": false}, "axis": {"values": [0, 300, 600, 900], "format": "d", "title": null}}
      },
      "layer": [
        {"transform": [{"filter": "datum.kind == 'bar'"}], "mark": {"type": "bar", "width": 12.4},
         "encoding": {
           "y": {"field": "kbits", "type": "quantitative", "stack": "zero", "scale": {"domain": [0, 1055], "nice": false}, "axis": {"values": [0, 300, 600, 900], "format": "d", "title": null}},
           "color": {"field": "part", "type": "nominal"},
           "order": {"field": "part", "sort": "descending"}}},
        {"transform": [{"filter": "datum.kind == 'result'"}], "mark": {"type": "point", "filled": true, "size": 95, "opacity": 0.25},
         "encoding": {"color": {"datum": "Overall Codelength|Results"}}},
        {"transform": [{"filter": "datum.kind == 'curve'"}], "mark": {"type": "line", "interpolate": "monotone", "strokeWidth": 2},
         "encoding": {"color": {"datum": "Overall Codelength|Learning Curve"}}}
      ]
    },
    {
      "title": "Sem. Proto Role 1", "width": 194, "height": 116,
      "transform": [{"filter": "datum.task == 'spr1'"}],
      "encoding": {
        "x": {"field": "log_tokens", "type": "quantitative", "scale": {"domain": [-0.97, 11.57], "nice": false, "zero": false}, "axis": {"values": [0, 6, 7, 8, 9, 10.477], "labels": false, "title": null}},
        "y": {"field": "kbits", "type": "quantitative", "scale": {"domain": [0, 68], "nice": false}, "axis": {"values": [0, 20, 40, 60], "format": "d", "title": null}}
      },
      "layer": [
        {"transform": [{"filter": "datum.kind == 'bar'"}], "mark": {"type": "bar", "width": 12.4},
         "encoding": {
           "y": {"field": "kbits", "type": "quantitative", "stack": "zero", "scale": {"domain": [0, 68], "nice": false}, "axis": {"values": [0, 20, 40, 60], "format": "d", "title": null}},
           "color": {"field": "part", "type": "nominal"},
           "order": {"field": "part", "sort": "descending"}}},
        {"transform": [{"filter": "datum.kind == 'result'"}], "mark": {"type": "point", "filled": true, "size": 95, "opacity": 0.25},
         "encoding": {"color": {"datum": "Overall Codelength|Results"}}},
        {"transform": [{"filter": "datum.kind == 'curve'"}], "mark": {"type": "line", "interpolate": "monotone", "strokeWidth": 2},
         "encoding": {"color": {"datum": "Overall Codelength|Learning Curve"}}}
      ]
    },
    {
      "title": "Sem. Proto Role 2", "width": 194, "height": 116,
      "transform": [{"filter": "datum.task == 'spr2'"}],
      "encoding": {
        "x": {"field": "log_tokens", "type": "quantitative", "scale": {"domain": [-0.97, 11.57], "nice": false, "zero": false}, "axis": {"values": [0, 6, 7, 8, 9, 10.477], "labels": false, "title": null}},
        "y": {"field": "kbits", "type": "quantitative", "scale": {"domain": [0, 37.8], "nice": false}, "axis": {"values": [0, 10, 20, 30], "format": "d", "title": null}}
      },
      "layer": [
        {"transform": [{"filter": "datum.kind == 'bar'"}], "mark": {"type": "bar", "width": 12.4},
         "encoding": {
           "y": {"field": "kbits", "type": "quantitative", "stack": "zero", "scale": {"domain": [0, 37.8], "nice": false}, "axis": {"values": [0, 10, 20, 30], "format": "d", "title": null}},
           "color": {"field": "part", "type": "nominal"},
           "order": {"field": "part", "sort": "descending"}}},
        {"transform": [{"filter": "datum.kind == 'result'"}], "mark": {"type": "point", "filled": true, "size": 95, "opacity": 0.25},
         "encoding": {"color": {"datum": "Overall Codelength|Results"}}},
        {"transform": [{"filter": "datum.kind == 'curve'"}], "mark": {"type": "line", "interpolate": "monotone", "strokeWidth": 2},
         "encoding": {"color": {"datum": "Overall Codelength|Learning Curve"}}}
      ]
    },
    {
      "title": "OntoNotes coref.", "width": 194, "height": 116,
      "transform": [{"filter": "datum.task == 'onto'"}],
      "encoding": {
        "x": {"field": "log_tokens", "type": "quantitative", "scale": {"domain": [-0.97, 11.57], "nice": false, "zero": false}, "axis": {"values": [0, 6, 7, 8, 9, 10.477], "title": null, "labelAngle": 270, "labelAlign": "right", "labelBaseline": "middle", "labelPadding": 9, "labelOverlap": false, "labelFlush": false, "labelBound": false, "labelExpr": "datum.value == 0 ? 'None' : datum.value == 6 ? '1M' : datum.value == 7 ? '10M' : datum.value == 8 ? '100M' : datum.value == 9 ? '1B' : '30B'"}},
        "y": {"field": "kbits", "type": "quantitative", "scale": {"domain": [0, 141.6], "nice": false}, "axis": {"values": [0, 40, 80, 120], "format": "d", "title": null}}
      },
      "layer": [
        {"transform": [{"filter": "datum.kind == 'bar'"}], "mark": {"type": "bar", "width": 12.4},
         "encoding": {
           "y": {"field": "kbits", "type": "quantitative", "stack": "zero", "scale": {"domain": [0, 141.6], "nice": false}, "axis": {"values": [0, 40, 80, 120], "format": "d", "title": null}},
           "color": {"field": "part", "type": "nominal"},
           "order": {"field": "part", "sort": "descending"}}},
        {"transform": [{"filter": "datum.kind == 'result'"}], "mark": {"type": "point", "filled": true, "size": 95, "opacity": 0.25},
         "encoding": {"color": {"datum": "Overall Codelength|Results"}}},
        {"transform": [{"filter": "datum.kind == 'curve'"}], "mark": {"type": "line", "interpolate": "monotone", "strokeWidth": 2},
         "encoding": {"color": {"datum": "Overall Codelength|Learning Curve"}}}
      ]
    },
    {
      "title": "Entities", "width": 194, "height": 116,
      "transform": [{"filter": "datum.task == 'ent'"}],
      "encoding": {
        "x": {"field": "log_tokens", "type": "quantitative", "scale": {"domain": [-0.97, 11.57], "nice": false, "zero": false}, "axis": {"values": [0, 6, 7, 8, 9, 10.477], "title": null, "labelAngle": 270, "labelAlign": "right", "labelBaseline": "middle", "labelPadding": 9, "labelOverlap": false, "labelFlush": false, "labelBound": false, "labelExpr": "datum.value == 0 ? 'None' : datum.value == 6 ? '1M' : datum.value == 7 ? '10M' : datum.value == 8 ? '100M' : datum.value == 9 ? '1B' : '30B'"}},
        "y": {"field": "kbits", "type": "quantitative", "scale": {"domain": [0, 172.5], "nice": false}, "axis": {"values": [0, 50, 100, 150], "format": "d", "title": null}}
      },
      "layer": [
        {"transform": [{"filter": "datum.kind == 'bar'"}], "mark": {"type": "bar", "width": 12.4},
         "encoding": {
           "y": {"field": "kbits", "type": "quantitative", "stack": "zero", "scale": {"domain": [0, 172.5], "nice": false}, "axis": {"values": [0, 50, 100, 150], "format": "d", "title": null}},
           "color": {"field": "part", "type": "nominal"},
           "order": {"field": "part", "sort": "descending"}}},
        {"transform": [{"filter": "datum.kind == 'result'"}], "mark": {"type": "point", "filled": true, "size": 95, "opacity": 0.25},
         "encoding": {"color": {"datum": "Overall Codelength|Results"}}},
        {"transform": [{"filter": "datum.kind == 'curve'"}], "mark": {"type": "line", "interpolate": "monotone", "strokeWidth": 2},
         "encoding": {"color": {"datum": "Overall Codelength|Learning Curve"}}}
      ]
    },
    {
      "title": "Winograd coref.", "width": 194, "height": 116,
      "transform": [{"filter": "datum.task == 'wino'"}],
      "encoding": {
        "x": {"field": "log_tokens", "type": "quantitative", "scale": {"domain": [-0.97, 11.57], "nice": false, "zero": false}, "axis": {"values": [0, 6, 7, 8, 9, 10.477], "title": null, "labelAngle": 270, "labelAlign": "right", "labelBaseline": "middle", "labelPadding": 9, "labelOverlap": false, "labelFlush": false, "labelBound": false, "labelExpr": "datum.value == 0 ? 'None' : datum.value == 6 ? '1M' : datum.value == 7 ? '10M' : datum.value == 8 ? '100M' : datum.value == 9 ? '1B' : '30B'"}},
        "y": {"field": "kbits", "type": "quantitative", "scale": {"domain": [0, 5.64], "nice": false}, "axis": {"values": [0, 1.5, 3, 4.5], "format": ".1f", "title": null}}
      },
      "layer": [
        {"transform": [{"filter": "datum.kind == 'bar'"}], "mark": {"type": "bar", "width": 12.4},
         "encoding": {
           "y": {"field": "kbits", "type": "quantitative", "stack": "zero", "scale": {"domain": [0, 5.64], "nice": false}, "axis": {"values": [0, 1.5, 3, 4.5], "format": ".1f", "title": null}},
           "color": {"field": "part", "type": "nominal"},
           "order": {"field": "part", "sort": "descending"}}},
        {"transform": [{"filter": "datum.kind == 'result'"}], "mark": {"type": "point", "filled": true, "size": 95, "opacity": 0.25},
         "encoding": {"color": {"datum": "Overall Codelength|Results"}}}
      ]
    },
    {
      "title": "Overall", "width": 194, "height": 116,
      "transform": [{"filter": "datum.task == 'all'"}],
      "encoding": {
        "x": {"field": "log_tokens", "type": "quantitative", "scale": {"domain": [-0.97, 11.57], "nice": false, "zero": false}, "axis": {"values": [0, 6, 7, 8, 9, 10.477], "title": null, "labelAngle": 270, "labelAlign": "right", "labelBaseline": "middle", "labelPadding": 9, "labelOverlap": false, "labelFlush": false, "labelBound": false, "labelExpr": "datum.value == 0 ? 'None' : datum.value == 6 ? '1M' : datum.value == 7 ? '10M' : datum.value == 8 ? '100M' : datum.value == 9 ? '1B' : '30B'"}},
        "y": {"field": "kbits", "type": "quantitative", "scale": {"domain": [-0.105, 1.098], "nice": false, "zero": false}, "axis": {"values": [0, 1], "format": "d", "title": "MDL (Normalized)", "titleFontSize": 13.5, "titleX": -35, "titleY": 60.5, "titleAngle": 270, "titleAlign": "center", "titleBaseline": "middle"}}
      },
      "layer": [
        {"transform": [{"filter": "datum.kind == 'bar'"}], "mark": {"type": "bar", "width": 12.4},
         "encoding": {
           "y": {"field": "kbits", "type": "quantitative", "stack": "zero", "scale": {"domain": [-0.105, 1.098], "nice": false, "zero": false}, "axis": {"values": [0, 1], "format": "d", "title": "MDL (Normalized)", "titleFontSize": 13.5, "titleX": -35, "titleY": 60.5, "titleAngle": 270, "titleAlign": "center", "titleBaseline": "middle"}},
           "color": {"field": "part", "type": "nominal"},
           "order": {"field": "part", "sort": "descending"}}},
        {"transform": [{"filter": "datum.kind == 'result'"}], "mark": {"type": "point", "filled": true, "size": 95, "opacity": 0.25},
         "encoding": {"color": {"datum": "Overall Codelength|Results"}}},
        {"transform": [{"filter": "datum.kind == 'curve'"}], "mark": {"type": "line", "interpolate": "monotone", "strokeWidth": 2},
         "encoding": {"color": {"datum": "Overall Codelength|Learning Curve"}}}
      ]
    }
  ],
  "config": {
    "font": "DejaVu Sans",
    "view": {"stroke": "#000000", "strokeWidth": 1.1},
    "axis": {"grid": false, "domain": false, "ticks": true, "tickSize": 5, "tickColor": "#000000", "tickWidth": 1.1, "labelColor": "#000000", "labelFontSize": 14.4, "labelFont": "DejaVu Sans", "labelPadding": 5, "titleColor": "#000000", "titleFontWeight": "normal", "titleFont": "DejaVu Sans"},
    "title": {"fontSize": 17.3, "fontWeight": "normal", "color": "#000000", "offset": 7.5, "baseline": "alphabetic", "anchor": "middle", "font": "DejaVu Sans"}
  }
}
